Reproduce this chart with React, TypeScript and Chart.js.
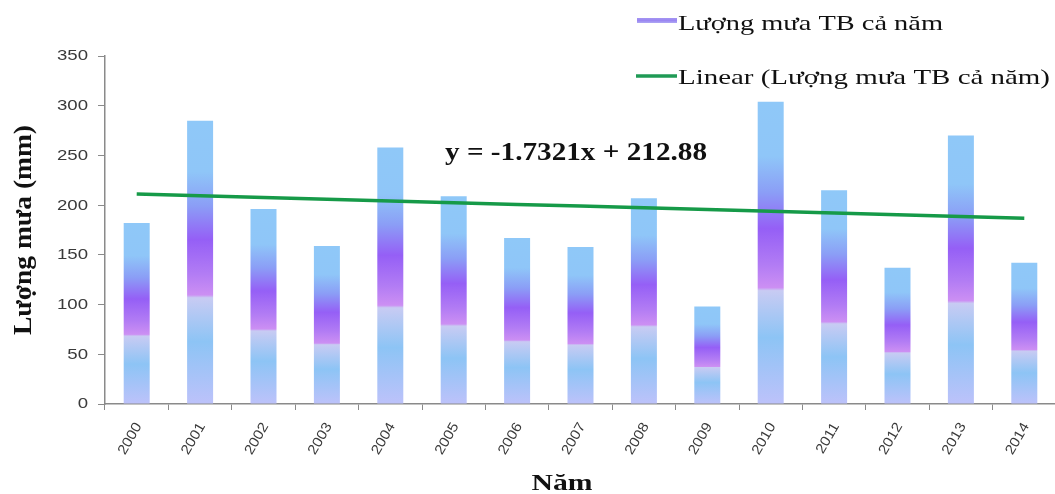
import React, { useEffect, useRef } from "react";
import { Chart, registerables } from "chart.js";

Chart.register(...registerables);

// Annual average rainfall per year (mm)
const YEARS = ["2000", "2001", "2002", "2003", "2004", "2005", "2006", "2007", "2008", "2009", "2010", "2011", "2012", "2013", "2014"];
const RAINFALL = [182, 285, 196, 159, 258, 209, 167, 158, 207, 98, 304, 215, 137, 270, 142];

// Linear trend line coefficients (x = 1 for the first year)
const TREND_SLOPE = -1.7321;
const TREND_INTERCEPT = 212.88;

const Y_TICKS = [0, 50, 100, 150, 200, 250, 300, 350];

const SERIES_LABEL = "Lượng mưa TB cả năm";
const TREND_LABEL = "Linear (Lượng mưa TB cả năm)";
const Y_TITLE = "Lượng mưa (mm)";
const X_TITLE = "Năm";

const SERIF = "'Liberation Serif', 'DejaVu Serif', serif";
const SANS = "'Liberation Sans', 'DejaVu Sans', sans-serif";
const AXIS_GREY = "#8a8a8a";
const TICK_TEXT = "#3a3a3a";

function barGradient(ctx: CanvasRenderingContext2D, top: number, bottom: number) {
  const g = ctx.createLinearGradient(0, top, 0, bottom);
  g.addColorStop(0, "#8fc8f8");
  g.addColorStop(0.18, "#8fc6f8");
  g.addColorStop(0.3, "#8b9ef6");
  g.addColorStop(0.42, "#955ff6");
  g.addColorStop(0.54, "#b27cf4");
  g.addColorStop(0.615, "#cc8ff3");
  g.addColorStop(0.625, "#c8cbf3");
  g.addColorStop(0.78, "#8dc4f5");
  g.addColorStop(1, "#bdc2fa");
  return g;
}

// Draws text scaled along its own direction so that it spans `width` pixels.
function fillFitted(
  ctx: CanvasRenderingContext2D,
  text: string,
  x: number,
  y: number,
  width: number,
  align: "left" | "center" | "right"
) {
  const w = ctx.measureText(text).width;
  const s = width / w;
  ctx.save();
  ctx.translate(x, y);
  ctx.scale(s, 1);
  ctx.textAlign = "left";
  const x0 = align === "left" ? 0 : align === "center" ? -w / 2 : -w;
  ctx.fillText(text, x0, 0);
  ctx.restore();
}

const annotations = {
  id: "annotations",
  afterDraw(chart: any) {
    const ctx: CanvasRenderingContext2D = chart.ctx;
    const xs = chart.scales.x;
    const ys = chart.scales.y;
    ctx.save();

    // y tick labels
    ctx.fillStyle = TICK_TEXT;
    ctx.font = `14px ${SANS}`;
    ctx.textBaseline = "middle";
    Y_TICKS.forEach((v) => {
      const label = String(v);
      const w = ctx.measureText(label).width * 1.33;
      fillFitted(ctx, label, 88, ys.getPixelForValue(v) + 0.5, w, "right");
    });

    // x tick labels, rotated
    ctx.font = `14px ${SANS}`;
    ctx.textBaseline = "middle";
    YEARS.forEach((label, i) => {
      const cx = xs.getPixelForValue(i);
      ctx.save();
      ctx.translate(cx + 2, 424);
      ctx.rotate((-60 * Math.PI) / 180);
      ctx.scale(1.1, 1);
      ctx.textAlign = "right";
      ctx.fillText(label, 0, 0);
      ctx.restore();
    });

    ctx.fillStyle = "#111";
    ctx.textBaseline = "alphabetic";

    // y-axis title
    ctx.save();
    ctx.translate(31, 230);
    ctx.rotate(-Math.PI / 2);
    ctx.font = `bold 25px ${SERIF}`;
    fillFitted(ctx, Y_TITLE, 0, 0, 210, "center");
    ctx.restore();

    // x-axis title
    ctx.font = `bold 24px ${SERIF}`;
    fillFitted(ctx, X_TITLE, 562, 490, 61, "center");

    // trend equation
    const sign = TREND_INTERCEPT >= 0 ? "+" : "-";
    const eq = `y = ${TREND_SLOPE.toFixed(4)}x ${sign} ${Math.abs(TREND_INTERCEPT).toFixed(2)}`;
    ctx.font = `bold 25px ${SERIF}`;
    fillFitted(ctx, eq, 445, 160, 262, "left");

    // legend
    const lg = ctx.createLinearGradient(0, 17, 0, 24);
    lg.addColorStop(0, "#a99cf2");
    lg.addColorStop(0.5, "#9a86f2");
    lg.addColorStop(1, "#b6b4f4");
    ctx.fillStyle = lg;
    ctx.fillRect(637, 18, 40, 5);
    ctx.strokeStyle = "#1f9a55";
    ctx.lineWidth = 3.5;
    ctx.beginPath();
    ctx.moveTo(636, 76);
    ctx.lineTo(677, 76);
    ctx.stroke();

    ctx.fillStyle = "#111";
    ctx.font = `22px ${SERIF}`;
    fillFitted(ctx, SERIES_LABEL, 678, 30, 265, "left");
    fillFitted(ctx, TREND_LABEL, 678, 84, 372, "left");
    ctx.restore();
  },
};

export default function App() {
  const canvasRef = useRef<HTMLCanvasElement | null>(null);

  useEffect(() => {
    const canvas = canvasRef.current;
    if (!canvas) return;

    const trend = YEARS.map((_, i) => TREND_INTERCEPT + TREND_SLOPE * (i + 1));

    const chart = new Chart(canvas, {
      type: "bar",
      data: {
        labels: YEARS,
        datasets: [
          {
            type: "line",
            label: TREND_LABEL,
            data: trend,
            borderColor: "#169a48",
            borderWidth: 3.5,
            pointRadius: 0,
            fill: false,
            order: 0,
          } as any,
          {
            type: "bar",
            label: SERIES_LABEL,
            data: RAINFALL,
            order: 1,
            barPercentage: 0.41,
            categoryPercentage: 1,
            borderWidth: 0,
            backgroundColor: (c: any) => {
              const chart = c.chart;
              const area = chart.chartArea;
              if (!area || typeof c.raw !== "number") return "#8fc6f8";
              const ys = chart.scales.y;
              const top = ys.getPixelForValue(c.raw);
              const bottom = ys.getPixelForValue(0);
              return barGradient(chart.ctx, top, bottom);
            },
          },
        ],
      },
      options: {
        animation: false,
        responsive: false,
        maintainAspectRatio: false,
        layout: { padding: { top: 56, left: 0, right: 2, bottom: 0 } },
        plugins: {
          legend: { display: false },
          tooltip: { enabled: false },
          title: { display: false },
        },
        scales: {
          x: {
            offset: true,
            grid: {
              offset: true,
              drawOnChartArea: false,
              drawTicks: true,
              tickLength: 6,
              color: AXIS_GREY,
            },
            border: { color: AXIS_GREY, width: 1.5 },
            ticks: {
              minRotation: 60,
              maxRotation: 60,
              autoSkip: false,
              color: "rgba(0,0,0,0)",
              font: { family: SANS, size: 14 },
            },
            afterFit(scale: any) {
              scale.height = 90;
            },
          },
          y: {
            min: 0,
            max: 350,
            afterBuildTicks(scale: any) {
              scale.ticks = Y_TICKS.map((v) => ({ value: v }));
            },
            grid: {
              drawOnChartArea: false,
              drawTicks: true,
              tickLength: 7,
              color: AXIS_GREY,
            },
            border: { color: AXIS_GREY, width: 1.5 },
            ticks: {
              padding: 9,
              color: "rgba(0,0,0,0)",
              font: { family: SANS, size: 14 },
            },
            afterFit(scale: any) {
              scale.width = 105;
            },
          },
        },
      },
      plugins: [annotations],
    });

    return () => chart.destroy();
  }, []);

  return (
    <div style={{ position: "absolute", left: 0, top: 0, width: 1055, height: 494, overflow: "hidden", background: "#fff" }}>
      <canvas ref={canvasRef} width={1058} height={494} style={{ display: "block", width: 1058, height: 494 }} />
    </div>
  );
}
